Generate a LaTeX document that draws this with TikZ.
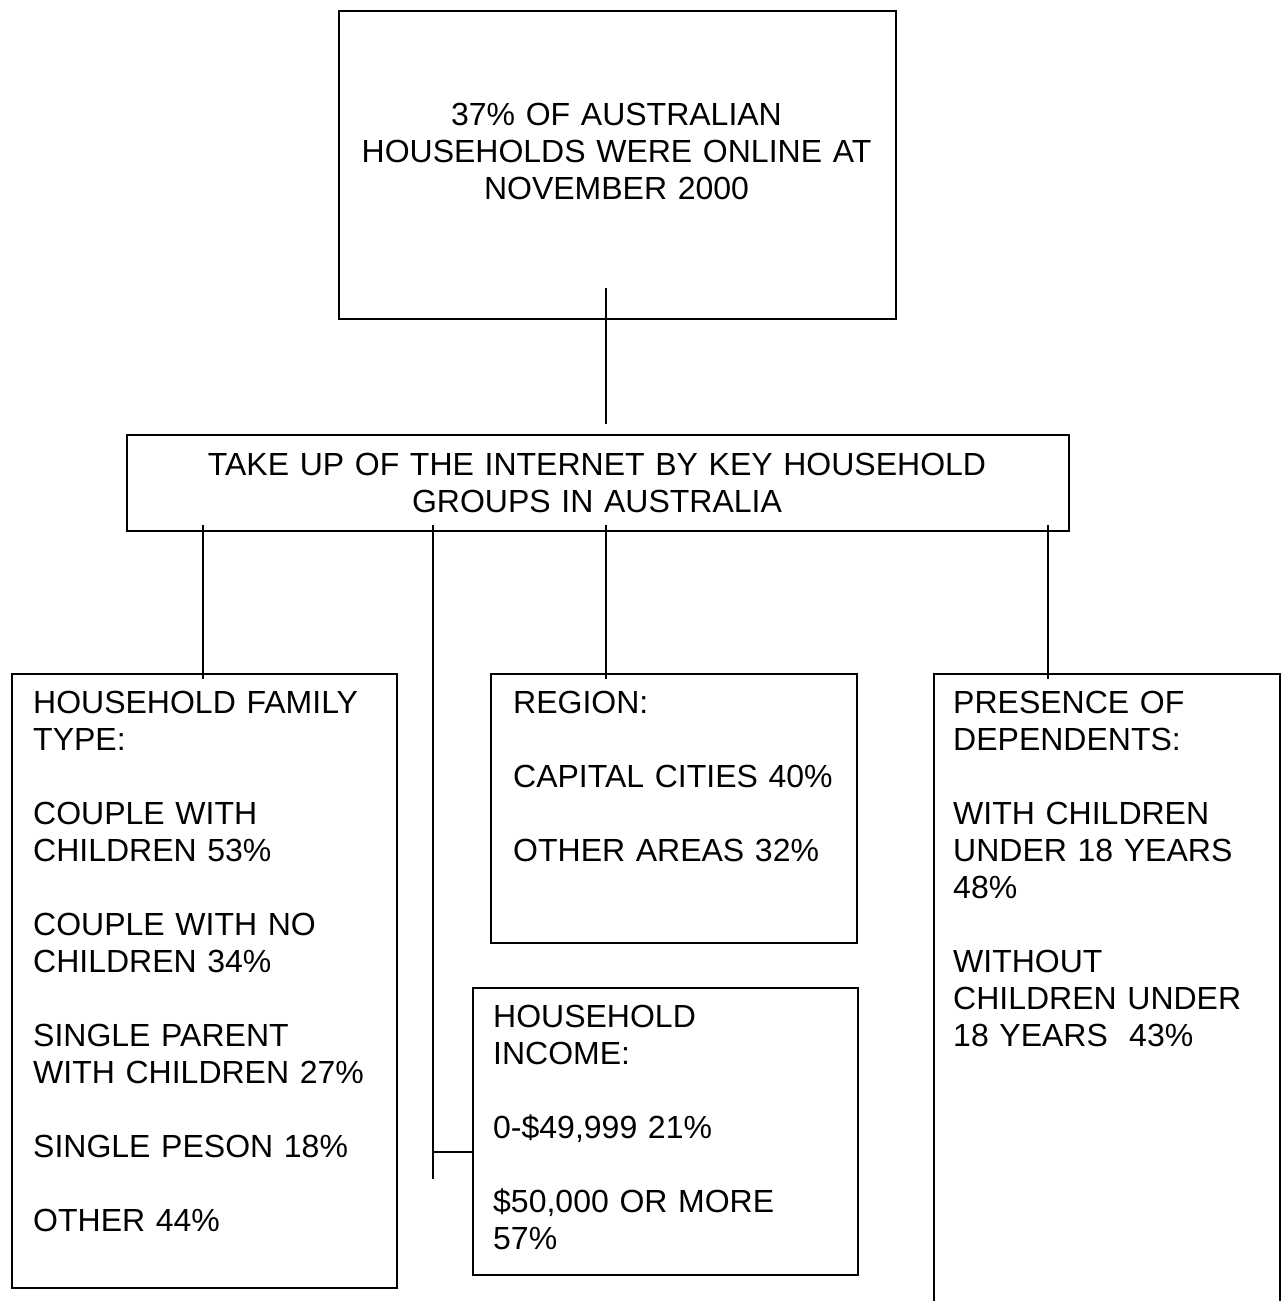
\documentclass[tikz,border=0pt]{standalone}
\usepackage{fontspec}
\setmainfont{Liberation Sans}
\newcommand{\boxfont}{\fontsize{32}{37}\selectfont\fontdimen2\font=7.3pt\relax}
\begin{document}
\begin{tikzpicture}[x=1pt,y=-1pt,
  box/.style={draw, line width=1.6pt, inner sep=0pt, anchor=north west},
  txt/.style={anchor=base west, inner sep=0pt, align=left, text width=420pt, font=\boxfont},
  ctxt/.style={anchor=base, inner sep=0pt, align=center, font=\boxfont},
  link/.style={line width=1.6pt}]
\useasboundingbox (0,0) rectangle (1284,1301);

% boxes
\node[box, minimum width=557pt, minimum height=308pt] (top) at (338,10) {};
\node[box, minimum width=942pt, minimum height=96pt] (mid) at (126,434) {};
\node[box, minimum width=385pt, minimum height=614pt] (family) at (11,673) {};
\node[box, minimum width=366pt, minimum height=269pt] (region) at (490,673) {};
\node[box, minimum width=385pt, minimum height=287pt] (income) at (472,987) {};
\node[box, minimum width=346pt, minimum height=660pt] (depend) at (933,673) {};

% texts
\node[ctxt, text width=557pt] (toptxt) at (616.5,125) {37\% OF AUSTRALIAN\\HOUSEHOLDS WERE ONLINE AT\\NOVEMBER 2000};
\node[ctxt, text width=942pt] (midtxt) at (597,475) {TAKE UP OF THE INTERNET BY KEY HOUSEHOLD\\GROUPS IN AUSTRALIA};
\node[txt] (familytxt) at (33,713) {HOUSEHOLD FAMILY\\TYPE:\\[37pt]COUPLE WITH\\CHILDREN 53\%\\[37pt]COUPLE WITH NO\\CHILDREN 34\%\\[37pt]SINGLE PARENT\\WITH CHILDREN 27\%\\[37pt]SINGLE PESON 18\%\\[37pt]OTHER 44\%};
\node[txt] (regiontxt) at (513,713) {REGION:\\[37pt]CAPITAL CITIES 40\%\\[37pt]OTHER AREAS 32\%};
\node[txt] (incometxt) at (493,1027) {HOUSEHOLD\\INCOME:\\[37pt]0-\$49,999 21\%\\[37pt]\$50,000 OR MORE\\57\%};
\node[txt] (dependtxt) at (953,713) {PRESENCE OF\\DEPENDENTS:\\[37pt]WITH CHILDREN\\UNDER 18 YEARS\\48\%\\[37pt]WITHOUT\\CHILDREN UNDER\\18 YEARS\ \ 43\%};

% connector end points
\coordinate (a1) at (606,288);
\coordinate (a2) at (606,424);
\coordinate (b1) at (203,525);
\coordinate (b2) at (203,679);
\coordinate (c1) at (433,525);
\coordinate (c2) at (433,1179);
\coordinate (c3) at (433,1152);
\coordinate (d1) at (606,525);
\coordinate (d2) at (606,679);
\coordinate (e1) at (1048,525);
\coordinate (e2) at (1048,679);

\draw[link] (a1) -- (a2);
\draw[link] (b1) -- (b2);
\draw[link] (c1) -- (c2);
\draw[link] (c3) -- (c3 -| income.west);
\draw[link] (d1) -- (d2);
\draw[link] (e1) -- (e2);
\end{tikzpicture}
\end{document}
